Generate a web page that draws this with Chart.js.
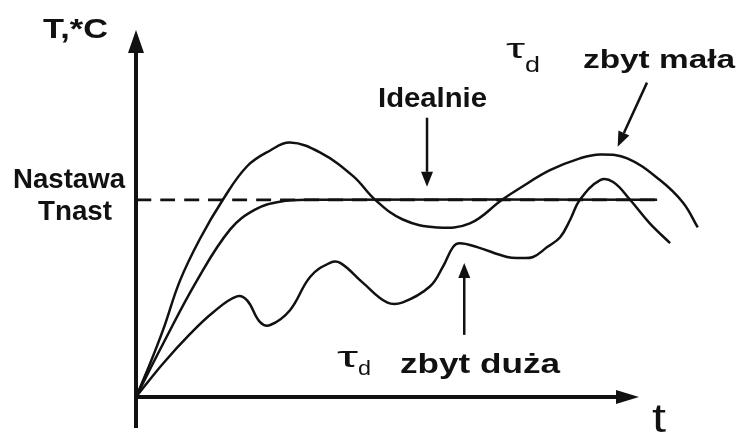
<!DOCTYPE html>
<html>
<head>
<meta charset="utf-8">
<script src="https://cdn.jsdelivr.net/npm/chart.js@4/dist/chart.umd.min.js"></script>
<style>
  html, body { margin: 0; padding: 0; background: #fff; }
  #wrap { width: 739px; height: 435px; }
</style>
</head>
<body>
<div id="wrap"><canvas id="chart" width="739" height="435"></canvas></div>
<script>
// time 0..100, temperature relative to the setpoint (Tnast = 1)
const tIdeal = [0, 4.8, 10.8, 16.7, 21.1, 25.5, 30.9, 92.4];
const TIdeal = [0, 0.27, 0.59, 0.85, 0.95, 0.99, 1.0, 1.0];

// tau_d too small - overshoot
const tSmall = [0, 2.5, 4.8, 7.8, 11.3, 15.4, 19.7, 23.8, 27.3, 32.6, 38.5, 42.4, 47.3, 53.4, 59.2, 64.9, 68.1, 73.4, 78.7, 82.3, 87.1, 92.9, 97.0, 99.6];
const TSmall = [0, 0.17, 0.34, 0.59, 0.80, 1.0, 1.17, 1.25, 1.29, 1.24, 1.12, 1.0, 0.90, 0.86, 0.88, 1.0, 1.06, 1.15, 1.21, 1.23, 1.21, 1.10, 0.985, 0.86];

// tau_d too large
const tLarge = [0, 4.8, 9.6, 13.7, 17.9, 19.7, 22.0, 23.8, 27.3, 30.9, 34.4, 36.2, 40.2, 44.5, 47.3, 52.1, 54.4, 56.2, 57.4, 60.5, 65.8, 68.1, 70.4, 72.9, 75.2, 77.0, 78.7, 82.3, 84.6, 87.6, 91.1, 94.7];
const TLarge = [0, 0.17, 0.32, 0.43, 0.51, 0.49, 0.38, 0.365, 0.44, 0.61, 0.68, 0.68, 0.58, 0.48, 0.48, 0.56, 0.66, 0.76, 0.78, 0.76, 0.71, 0.705, 0.71, 0.76, 0.81, 0.90, 1.0, 1.10, 1.09, 1.0, 0.88, 0.78];

// setpoint
const tSet = [0, 92.4];
const TSet = [1, 1];

const INK = '#111';
const FONT = '"Liberation Sans", Arial, sans-serif';

function pts(xs, ys) { return xs.map((x, i) => ({ x: x, y: ys[i] })); }

function fitText(ctx, txt, left, right, base, size, weight) {
    ctx.font = weight + ' ' + size + 'px ' + FONT;
    const w = ctx.measureText(txt).width;
    ctx.save();
    ctx.translate(left, base);
    ctx.scale((right - left) / w, 1);
    ctx.fillText(txt, 0, 0);
    ctx.restore();
}

function arrow(ctx, x1, y1, x2, y2, lw, len, half) {
    const a = Math.atan2(y2 - y1, x2 - x1);
    const bx = x2 - len * Math.cos(a), by = y2 - len * Math.sin(a);
    ctx.lineWidth = lw;
    ctx.beginPath(); ctx.moveTo(x1, y1); ctx.lineTo(bx, by); ctx.stroke();
    ctx.beginPath();
    ctx.moveTo(x2, y2);
    ctx.lineTo(bx + half * Math.sin(a), by - half * Math.cos(a));
    ctx.lineTo(bx - half * Math.sin(a), by + half * Math.cos(a));
    ctx.closePath(); ctx.fill();
}

const decor = {
    id: 'decor',
    afterDraw(chart) {
        const ctx = chart.ctx;
        const sx = chart.scales.x, sy = chart.scales.y;
        const ox = sx.getPixelForValue(0), oy = sy.getPixelForValue(0);
        const px = v => sx.getPixelForValue(v), py = v => sy.getPixelForValue(v);
        ctx.save();
        ctx.strokeStyle = INK; ctx.fillStyle = INK; ctx.lineCap = 'butt';

        // axes with arrow heads
        ctx.lineWidth = 4;
        ctx.beginPath(); ctx.moveTo(ox, oy + 31); ctx.lineTo(ox, 50); ctx.stroke();
        ctx.beginPath(); ctx.moveTo(ox, 30); ctx.lineTo(ox - 8, 53); ctx.lineTo(ox + 8, 53); ctx.closePath(); ctx.fill();
        ctx.beginPath(); ctx.moveTo(ox - 2, oy); ctx.lineTo(620, oy); ctx.stroke();
        ctx.beginPath(); ctx.moveTo(639, oy); ctx.lineTo(616, oy - 7); ctx.lineTo(616, oy + 7); ctx.closePath(); ctx.fill();

        // pointer arrows
        arrow(ctx, px(51.6), py(1.416), px(51.6), py(1.066), 2.5, 15, 6);
        arrow(ctx, px(90.6), py(1.594), px(85.4), py(1.269), 2.5, 15, 6);
        arrow(ctx, px(58.2), py(0.315), px(58.2), py(0.68), 2.5, 15, 6);

        // labels
        ctx.textBaseline = 'alphabetic';
        fitText(ctx, 'T,*C', 43, 108, 38, 28, 'bold');
        fitText(ctx, 'Nastawa', 13, 125, 188, 28, 'bold');
        fitText(ctx, 'Tnast', 38, 112, 220, 28, 'bold');
        fitText(ctx, 'Idealnie', 378, 487, 107, 28, 'bold');
        fitText(ctx, 'zbyt mała', 583, 735, 68, 26, 'bold');
        fitText(ctx, 'zbyt duża', 400, 560, 373, 28, 'bold');
        fitText(ctx, 'τ', 506, 525, 58, 28, 'normal');
        fitText(ctx, 'd', 525, 540, 72, 22, 'normal');
        fitText(ctx, 'τ', 337, 358, 367, 29, 'normal');
        fitText(ctx, 'd', 358, 371, 375, 21, 'normal');
        fitText(ctx, 't', 652, 666, 432, 40, 'normal');
        ctx.restore();
    }
};

const lineStyle = { borderColor: INK, borderWidth: 2.5, pointRadius: 0, fill: false, tension: 0.4 };

new Chart(document.getElementById('chart'), {
    type: 'line',
    data: {
        datasets: [
            Object.assign({ label: 'Nastawa', data: pts(tSet, TSet), borderDash: [15, 9] }, lineStyle, { borderWidth: 2.8 }),
            Object.assign({ label: 'Idealnie', data: pts(tIdeal, TIdeal) }, lineStyle),
            Object.assign({ label: 'τd zbyt mała', data: pts(tSmall, TSmall) }, lineStyle),
            Object.assign({ label: 'τd zbyt duża', data: pts(tLarge, TLarge) }, lineStyle)
        ]
    },
    options: {
        responsive: false,
        devicePixelRatio: 1,
        animation: false,
        layout: { padding: { left: 136, right: 39, top: 42, bottom: 38 } },
        scales: {
            x: { type: 'linear', min: 0, max: 100, display: false },
            y: { min: 0, max: 1.8, display: false }
        },
        plugins: { legend: { display: false }, tooltip: { enabled: false } }
    },
    plugins: [decor]
});
</script>
</body>
</html>
